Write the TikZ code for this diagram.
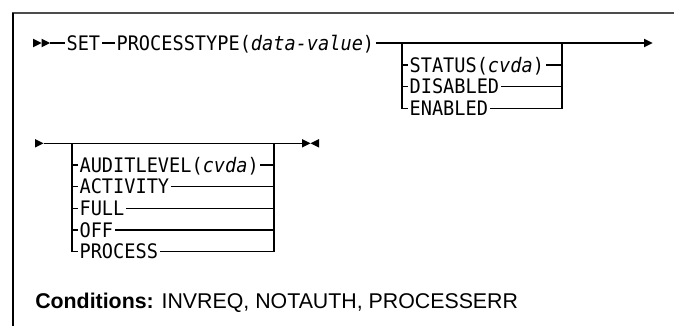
\documentclass[tikz,border=0pt]{standalone}
\usepackage{fontspec}
\setmainfont{Liberation Sans}
\setmonofont[FakeStretch=0.93]{DejaVu Sans Mono}
\usetikzlibrary{arrows.meta,positioning,calc}

\begin{document}
\begin{tikzpicture}[
  x=0.75pt, y=-0.75pt,
  kw/.style={inner xsep=1pt, inner ysep=0pt, text height=10.9pt, text depth=0pt,
             anchor=west, font=\fontsize{15}{17}\selectfont\ttfamily},
  rail/.style={line width=0.9pt},
  tick/.style={line width=0.5pt},
  tri/.pic={\fill (0,-4.3) -- (8.5,0) -- (0,4.3) -- cycle;},
  trl/.pic={\fill (0,-4.3) -- (-8.5,0) -- (0,4.3) -- cycle;}
]
  \useasboundingbox (0,0) rectangle (674,326);

  % Frame
  \draw[line width=2.2pt, black!70] (12,13) -- (674,13);
  \draw[line width=1.1pt] (13,13) -- (13,326);

  % Row 1: SET PROCESSTYPE
  \pic at (33,43) {tri};
  \pic at (41.5,43) {tri};
  \coordinate (go1) at (50,43);
  \node[kw] (set) at (65,43) {SET};
  \node[kw] (ptype) at (115,43) {PROCESSTYPE(\textit{data-value})};
  \coordinate (b1l) at (402,43);
  \coordinate (b1r) at (562,43);
  \coordinate (to1) at (644,43);
  \pic at (644,43) {tri};
  \draw[rail] (go1) -- (set);
  \draw[rail] (set) -- (ptype);
  \draw[rail] (ptype) -- (to1);

  \node[kw] (status) at (408,65) {STATUS(\textit{cvda})};
  \node[kw] (disabled) at (408,86.7) {DISABLED};
  \node[kw] (enabled) at (408,108.3) {ENABLED};
  \draw[rail] (b1l) |- (enabled);
  \draw[rail] (b1r) |- (enabled);
  \foreach \opt in {status,disabled} {
    \draw[rail] (b1l |- \opt) -- (\opt);
    \draw[rail] (b1r |- \opt) -- (\opt);
  }
  \foreach \y in {54.2,75.8,97.5}
    \foreach \x in {402,562}
      \draw[tick] (\x-0.9,\y) -- (\x+0.9,\y);

  % Row 2: AUDITLEVEL
  \pic at (35,143.3) {tri};
  \coordinate (go2) at (43.5,143.3);
  \coordinate (b2l) at (72,143.3);
  \coordinate (b2r) at (274,143.3);
  \coordinate (to2) at (302,143.3);
  \pic at (302,143.3) {tri};
  \pic at (319,143.3) {trl};
  \draw[rail] (go2) -- (to2);

  \node[kw] (audit) at (78,165) {AUDITLEVEL(\textit{cvda})};
  \node[kw] (activity) at (78,186.7) {ACTIVITY};
  \node[kw] (full) at (78,208.3) {FULL};
  \node[kw] (off) at (78,230) {OFF};
  \node[kw] (process) at (78,251.7) {PROCESS};
  \draw[rail] (b2l) |- (process);
  \draw[rail] (b2r) |- (process);
  \foreach \opt in {audit,activity,full,off} {
    \draw[rail] (b2l |- \opt) -- (\opt);
    \draw[rail] (b2r |- \opt) -- (\opt);
  }
  \foreach \y in {154.2,175.8,197.5,219.2,240.8}
    \foreach \x in {72,274}
      \draw[tick] (\x-0.9,\y) -- (\x+0.9,\y);

  % Conditions
  \node[anchor=base west, inner sep=0pt, font=\fontsize{16}{19}\selectfont]
    (cond) at (35,308) {\textbf{Conditions:} INVREQ, NOTAUTH, PROCESSERR};
\end{tikzpicture}
\end{document}
